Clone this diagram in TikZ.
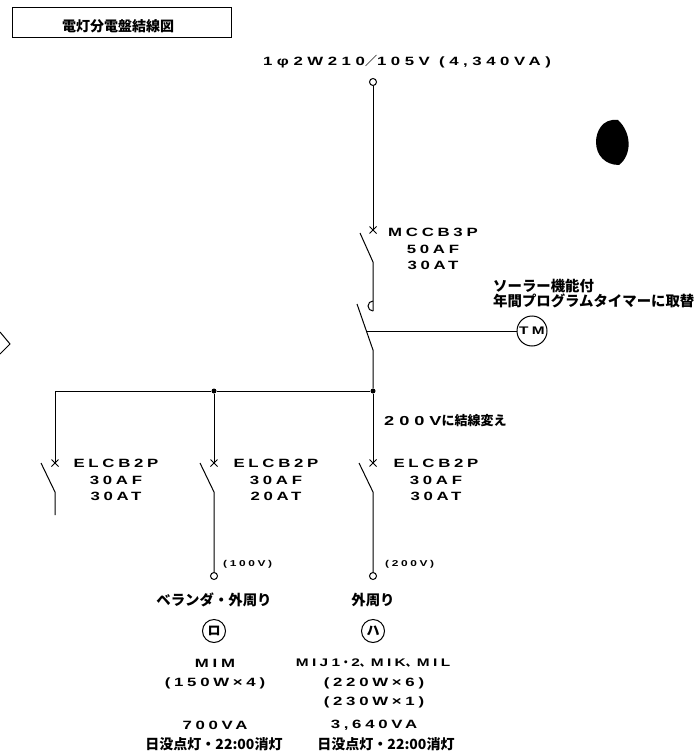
\documentclass[tikz,border=0pt]{standalone}
\usepackage{fontspec}
\usetikzlibrary{shapes.misc}
\newfontfamily\jpfont{Noto Sans CJK JP}
\newfontfamily\widefont[LetterSpace=31,FakeStretch=1.4]{Liberation Sans}
\newfontfamily\widerfont[LetterSpace=38,FakeStretch=1.4]{Liberation Sans}
\tikzset{
    wide/.style={font=\widefont\bfseries\fontsize{12}{14}\selectfont,inner sep=0pt},
    smallwide/.style={font=\widefont\bfseries\fontsize{8.5}{10}\selectfont,inner sep=0pt},
    jp/.style={font=\jpfont\bfseries\fontsize{14.4}{15}\selectfont,inner sep=0pt},
    note/.style={font=\jpfont\bfseries\fontsize{14}{15}\selectfont,inner sep=0pt},
    term/.style={circle,draw,line width=1pt,minimum size=7pt,inner sep=0pt},
    junction/.style={circle,fill,minimum size=5pt,inner sep=0pt},
    breaker/.style={cross out,draw,line width=1pt,minimum size=6pt,inner sep=0pt},
    circled/.style={circle,draw,line width=1pt,minimum size=23pt,inner sep=0pt},
    wire/.style={line width=1pt}
}

\begin{document}
\begin{tikzpicture}[x=1pt,y=-1pt]
    \useasboundingbox (0,0) rectangle (694,754);
    % title
    \node[draw,line width=1pt,minimum width=219pt,minimum height=30pt] (frame) at (121.5,23) {};
    \node[note] (title) at (118,26) {電灯分電盤結線図};
    \node[wide,font=\widerfont\bfseries\fontsize{12}{14}\selectfont] (supply) at (407,62) {1φ2W210{\jpfont／}105V (4,340VA)};

    % main breaker
    \node[term] (source) at (373,82) {};
    \node[breaker] (mccb) at (373,230) {};
    \coordinate (mccbopen) at (360,233);
    \coordinate (mccbend) at (373,262);
    \coordinate (auxtop) at (373,301);
    \coordinate (auxend) at (373,311);
    \coordinate (timeropen) at (357,304);
    \coordinate (timerend) at (373,350);
    \coordinate (timerarm) at (367,331);
    \node[junction] (mainjoin) at (373,391) {};
    \node[junction] (midjoin) at (214,391) {};
    \coordinate (busend) at (55,391);
    \node[wide] (mccbname) at (433,232) {MCCB3P};
    \node[wide] (mccbaf) at (433,249) {50AF};
    \node[wide] (mccbat) at (433,265) {30AT};
    \draw[wire] (source) -- (mccb.center);
    \draw[wire] (mccbopen) -- (mccbend) -- (auxend);
    \draw[wire] (auxtop) arc[start angle=90,end angle=270,radius=5pt];
    \draw[wire] (timeropen) -- (timerend) -- (mainjoin);

    % timer
    \node[circle,draw,line width=1pt,minimum size=30pt,inner sep=0pt,font=\widefont\bfseries\fontsize{11}{13}\selectfont] (tm) at (532,331) {TM};
    \node[jp,anchor=west] (tmnotea) at (493,285.5) {ソーラー機能付};
    \node[jp,anchor=west] (tmnoteb) at (493,300.5) {年間プログラムタイマーに取替};
    \draw[wire] (timerarm) -- (tm);

    % bus and branches
    \draw[wire] (mainjoin) -- (midjoin) -- (busend);
    \node[wide,font=\widerfont\bfseries\fontsize{13}{14}\selectfont,anchor=west] (change) at (384,421) {200V{\jpfont\fontsize{13}{14}\selectfont に結線変え}};
    \node[breaker] (elcba) at (55,463) {};
    \node[breaker] (elcbb) at (214,463) {};
    \node[breaker] (elcbc) at (373,463) {};
    \foreach \nm/\px in {a/55,b/214,c/373}{
        \coordinate (open\nm) at (\px-14,463);
        \coordinate (end\nm) at (\px,492);
    }
    \coordinate (tail) at (55,515);
    \node[term] (loadb) at (214,576) {};
    \node[term] (loadc) at (373,576) {};
    \draw[wire] (busend) -- (elcba.center);
    \draw[wire] (midjoin) -- (elcbb.center);
    \draw[wire] (mainjoin) -- (elcbc.center);
    \draw[wire] (opena) -- (enda) -- (tail);
    \draw[wire] (openb) -- (endb) -- (loadb);
    \draw[wire] (openc) -- (endc) -- (loadc);
    \node[wide] (anamea) at (116,463) {ELCB2P};
    \node[wide] (aaf) at (116,480) {30AF};
    \node[wide] (aat) at (116,496) {30AT};
    \node[wide] (bnamea) at (276,463) {ELCB2P};
    \node[wide] (baf) at (276,480) {30AF};
    \node[wide] (bat) at (276,496) {20AT};
    \node[wide] (cnamea) at (436,463) {ELCB2P};
    \node[wide] (caf) at (436,480) {30AF};
    \node[wide] (cat) at (436,496) {30AT};
    \node[smallwide,anchor=west] (voltb) at (223,564) {(100V)};
    \node[smallwide,anchor=west] (voltc) at (385,564) {(200V)};

    % loads
    \node[jp] (placeb) at (214,600) {ベランダ・外周り};
    \node[jp] (placec) at (373,600) {外周り};
    \node[circled,font=\jpfont\bfseries\fontsize{13}{14}\selectfont] (markb) at (214,631) {ロ};
    \node[circled,font=\jpfont\bfseries\fontsize{13}{14}\selectfont] (markc) at (373,631) {ハ};
    \node[wide] (lampb) at (215,663) {MIM};
    \node[wide,font=\widefont\bfseries\fontsize{11}{13}\selectfont] (lampc) at (373,663) {MIJ1{\jpfont ・}2{\jpfont 、}MIK{\jpfont 、}MIL};
    \node[wide] (wattb) at (215,683) {(150W×4)};
    \node[wide] (wattc) at (374,683) {(220W×6)};
    \node[wide] (wattd) at (374,702) {(230W×1)};
    \node[wide] (vab) at (215,725) {700VA};
    \node[wide] (vac) at (374,725) {3,640VA};
    \node[note] (timeb) at (214,744) {日没点灯・22:00消灯};
    \node[note] (timec) at (386,744) {日没点灯・22:00消灯};

    % marks on the sheet
    \draw[line width=1pt] (0,332) -- (10,344) -- (0,354);
    \fill (618,120) .. controls (602,118) and (596,132) .. (596,142) .. controls (596,155) and (605,165) .. (619,165) .. controls (632,155) and (632,133) .. (618,120);
\end{tikzpicture}
\end{document}
